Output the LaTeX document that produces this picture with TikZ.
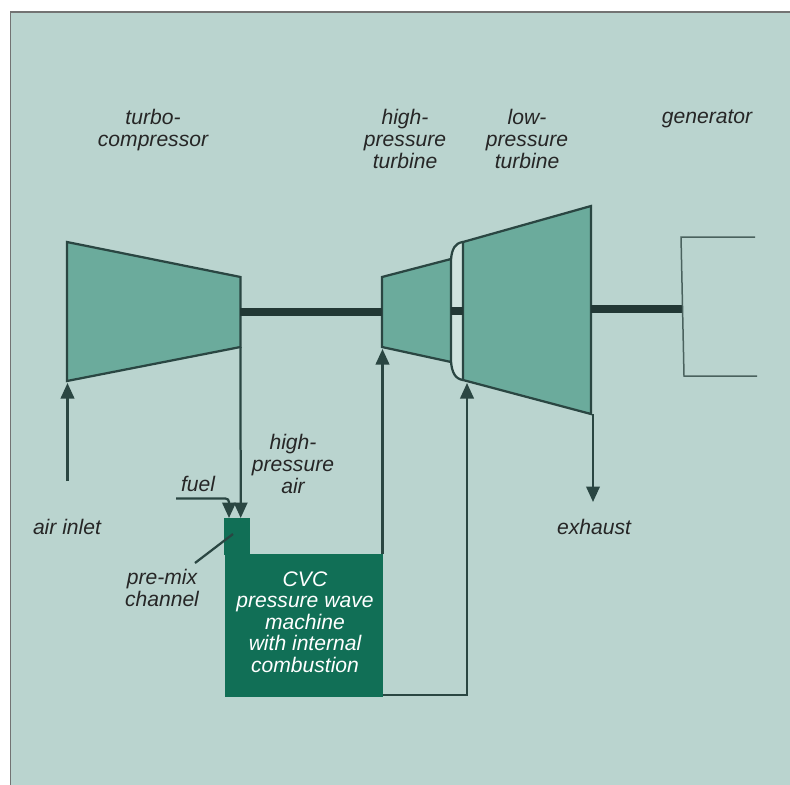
\documentclass[tikz,border=0pt]{standalone}
\usepackage{xcolor}
\usepackage{fontspec}
\setmainfont{Liberation Sans}
\usetikzlibrary{arrows.meta}

\definecolor{panelbg}{HTML}{BAD4CF}
\definecolor{bladefill}{HTML}{6BAB9C}
\definecolor{gapfill}{HTML}{CFE3DE}
\definecolor{cvcfill}{HTML}{116F56}
\definecolor{inkline}{HTML}{2A4642}

\begin{document}
\begin{tikzpicture}[
    x=0.02cm, y=-0.02cm,
    blade/.style={draw=inkline, fill=bladefill, line width=0.045cm, line join=miter},
    shaft/.style={draw=inkline!80!black, line width=0.15cm},
    arrow/.style={-{Triangle[width=0.27cm, length=0.31cm]}, draw=inkline, line width=0.045cm},
    wire/.style={draw=inkline, line width=0.045cm},
    cvc/.style={draw=cvcfill, fill=cvcfill, inner sep=0pt},
    label/.style={align=center, inner sep=0pt, font=\itshape\fontsize{12}{12.3}\selectfont, text=black!85}
]
    \useasboundingbox (0, 0) rectangle (790, 784);
    \fill[white] (0, 0) rectangle (790, 784);

    % Background panel
    \fill[panelbg] (10.5, 12.5) rectangle (800, 800);
    \draw[draw=black!55, line width=0.04cm] (10.5, 800) -- (10.5, 12.5) -- (800, 12.5);

    % Shafts
    \coordinate (comp_shaft) at (240, 312);
    \coordinate (hpt_shaft) at (382, 312);
    \coordinate (hpt_out) at (451, 311);
    \coordinate (lpt_in) at (463, 311);
    \coordinate (lpt_shaft) at (591, 309);
    \coordinate (gen_shaft) at (683, 309);

    % Turbo-compressor
    \coordinate (comp_tl) at (67, 242);
    \coordinate (comp_tr) at (240.5, 277);
    \coordinate (comp_br) at (240.5, 347);
    \coordinate (comp_bl) at (67, 381);
    \draw[blade] (comp_tl) -- (comp_tr) -- (comp_br) -- (comp_bl) -- cycle;

    % High-pressure turbine
    \coordinate (hpt_tl) at (382, 277);
    \coordinate (hpt_tr) at (451, 259);
    \coordinate (hpt_br) at (451, 362);
    \coordinate (hpt_bl) at (382, 347);

    % Low-pressure turbine
    \coordinate (lpt_tl) at (463, 242);
    \coordinate (lpt_tr) at (591, 206);
    \coordinate (lpt_br) at (591, 414);
    \coordinate (lpt_bl) at (463, 380);

    % Casing between the turbines
    \fill[gapfill] (hpt_tr) .. controls (452, 249) and (455, 243) .. (lpt_tl) -- (lpt_bl) .. controls (455, 379) and (452, 372) .. (hpt_br) -- cycle;
    \draw[wire] (hpt_tr) .. controls (452, 249) and (455, 243) .. (lpt_tl);
    \draw[wire] (hpt_br) .. controls (452, 372) and (455, 379) .. (lpt_bl);

    \draw[blade] (hpt_tl) -- (hpt_tr) -- (hpt_br) -- (hpt_bl) -- cycle;
    \draw[blade] (lpt_tl) -- (lpt_tr) -- (lpt_br) -- (lpt_bl) -- cycle;

    \draw[shaft] (comp_shaft) -- (hpt_shaft);
    \draw[shaft] (hpt_out) -- (lpt_in);
    \draw[shaft] (lpt_shaft) -- (gen_shaft);

    % Generator
    \draw[draw=inkline!85, line width=0.03cm] (755, 237) -- (681, 237) -- (684, 376) -- (757, 376);

    % CVC machine
    \node[cvc, minimum width=0.5cm, minimum height=0.72cm] (premix) at (237.2, 536.5) {};
    \node[cvc, minimum width=3.15cm, minimum height=2.84cm] (cvc_box) at (303.7, 625.4) {};

    % Flow arrows
    \coordinate (air_start) at (67.5, 481);
    \coordinate (air_end) at (67.5, 383);
    \coordinate (hpa_end) at (240.7, 518);
    \coordinate (fuel_start) at (176, 498.5);
    \coordinate (fuel_bend) at (229, 498.5);
    \coordinate (fuel_end) at (229, 518);
    \coordinate (cvc_tr) at (382.5, 554);
    \coordinate (hpt_end) at (382.5, 349);
    \coordinate (cvc_br) at (382.5, 695);
    \coordinate (ret_bend) at (467, 695);
    \coordinate (lpt_end) at (467, 383);
    \coordinate (exhaust_start) at (593, 414);
    \coordinate (exhaust_end) at (593, 502);
    \draw[arrow] (air_start) -- (air_end);
    \draw[arrow] (comp_br) -- (hpa_end);
    \draw[arrow, rounded corners=2pt] (fuel_start) -- (fuel_bend) -- (fuel_end);
    \draw[arrow] (cvc_tr) -- (hpt_end);
    \draw[arrow] (cvc_br) -- (ret_bend) -- (lpt_end);
    \draw[arrow] (exhaust_start) -- (exhaust_end);

    % Pre-mix leader
    \coordinate (leader_start) at (195, 563);
    \coordinate (leader_end) at (233, 534);
    \draw[wire] (leader_start) -- (leader_end);

    % Labels
    \node[label] (turbo_lbl) at (153, 130) {turbo-\\compressor};
    \node[label] (hpt_lbl) at (405, 139) {high-\\pressure\\turbine};
    \node[label] (lpt_lbl) at (527, 139) {low-\\pressure\\turbine};
    \node[label] (gen_lbl) at (707, 119) {generator};
    \node[label] (hpa_lbl) at (293, 464) {high-\\pressure\\air};
    \node[label] (fuel_lbl) at (198, 484) {fuel};
    \node[label] (air_lbl) at (67, 527) {air inlet};
    \node[label] (premix_lbl) at (162, 588) {pre-mix\\channel};
    \node[label] (exhaust_lbl) at (594, 527) {exhaust};
    \node[label, text=white] (cvc_lbl) at (305, 622) {CVC\\pressure wave\\machine\\with internal\\combustion};
\end{tikzpicture}
\end{document}
